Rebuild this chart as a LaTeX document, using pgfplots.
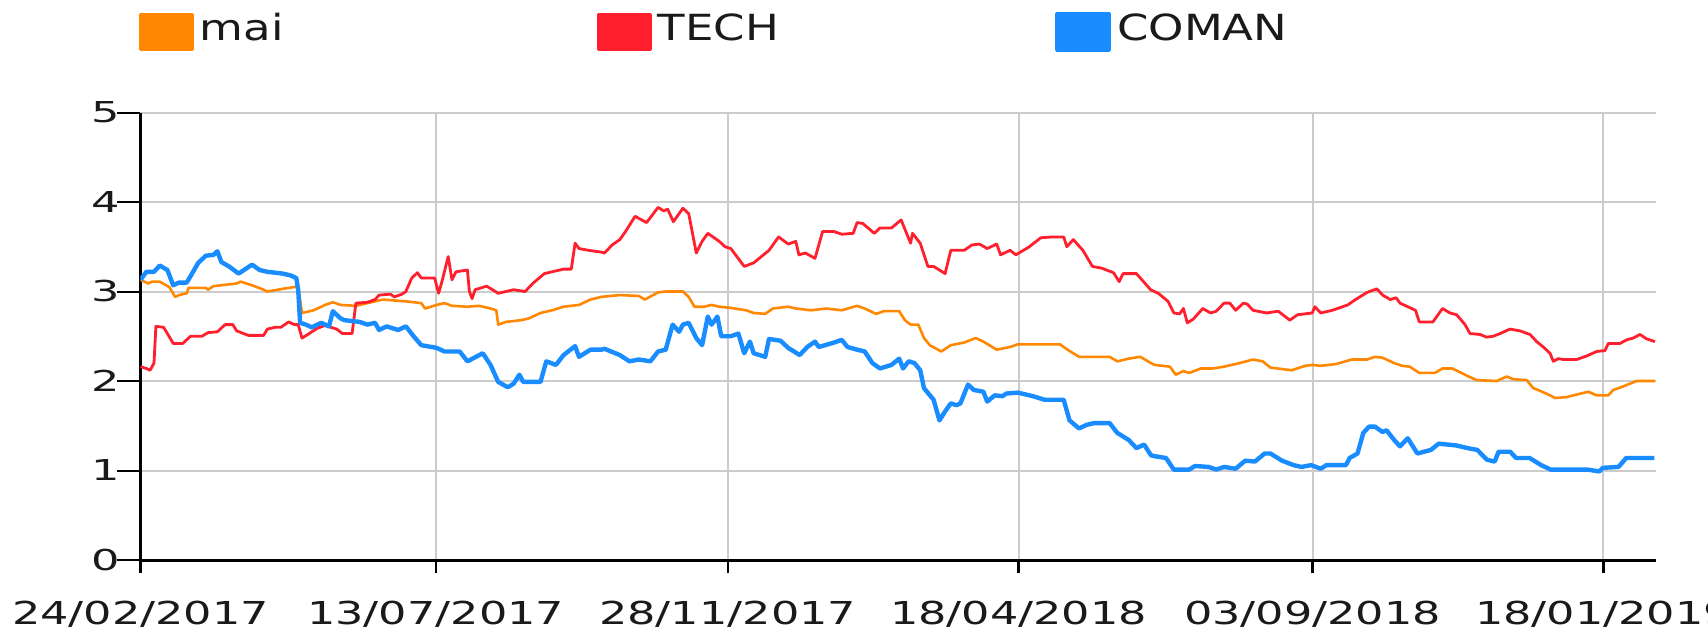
\documentclass[border=0pt]{standalone}
\usepackage{fontspec}
\usepackage{pgfplots}
\pgfplotsset{compat=1.18}
\newfontfamily\xlab[FakeStretch=1.41]{DejaVu Sans}
\newfontfamily\ylab[FakeStretch=1.55]{DejaVu Sans}
\newfontfamily\leg[FakeStretch=1.25]{DejaVu Sans}
\definecolor{cmai}{HTML}{FF8800}
\definecolor{ctech}{HTML}{FF1F2D}
\definecolor{ccoman}{HTML}{198CFF}
\definecolor{txt}{HTML}{1A1A1A}

% x values are positions in pixels of the 1708 px wide original (day ticks below)
\pgfplotstableread{
x y
140.5 3.13
148.2 3.09
152.0 3.11
159.7 3.11
169.3 3.05
175.1 2.94
179.0 2.96
186.7 2.98
188.6 3.04
205.9 3.04
207.8 3.02
213.6 3.06
236.7 3.09
240.5 3.11
252.0 3.07
263.6 3.02
267.4 3.00
282.8 3.03
294.4 3.05
298.2 3.05
302.0 2.76
313.6 2.79
325.1 2.85
332.8 2.88
340.5 2.85
355.9 2.84
367.4 2.87
382.8 2.91
394.3 2.90
405.9 2.89
421.3 2.87
425.1 2.81
436.7 2.85
444.4 2.87
452.0 2.84
467.4 2.83
479.0 2.84
490.5 2.81
496.3 2.79
498.2 2.63
505.9 2.66
521.3 2.68
529.0 2.70
540.5 2.76
552.0 2.79
563.6 2.83
579.0 2.85
590.5 2.91
601.3 2.94
619.8 2.96
638.9 2.95
644.7 2.91
658.1 2.99
665.7 3.00
682.9 3.00
688.7 2.94
694.4 2.83
704.0 2.83
711.6 2.85
719.3 2.83
728.9 2.82
746.1 2.79
753.7 2.76
765.2 2.75
772.9 2.81
788.2 2.83
795.8 2.81
811.1 2.79
826.4 2.81
841.7 2.79
857.1 2.84
864.7 2.81
876.2 2.75
883.8 2.78
899.2 2.78
904.9 2.68
910.6 2.63
918.3 2.63
924.0 2.48
929.8 2.40
941.3 2.33
950.8 2.40
964.2 2.43
975.7 2.48
983.4 2.44
996.7 2.35
1010.1 2.38
1017.8 2.41
1059.9 2.41
1067.5 2.35
1079.0 2.27
1109.6 2.27
1117.3 2.22
1128.8 2.25
1140.3 2.27
1151.0 2.20
1154.4 2.18
1169.9 2.16
1175.7 2.07
1183.4 2.11
1189.2 2.09
1200.8 2.14
1212.4 2.14
1224.0 2.16
1239.5 2.20
1253.0 2.24
1262.7 2.22
1270.4 2.15
1291.7 2.12
1305.3 2.17
1313.0 2.18
1320.7 2.17
1336.2 2.19
1351.7 2.24
1367.1 2.24
1374.9 2.27
1382.6 2.26
1394.2 2.20
1401.9 2.17
1409.7 2.16
1419.3 2.09
1434.8 2.09
1442.5 2.14
1452.0 2.14
1456.0 2.12
1466.7 2.06
1476.7 2.01
1496.7 2.00
1506.7 2.05
1513.3 2.02
1526.7 2.01
1533.3 1.92
1540.0 1.89
1550.0 1.84
1555.0 1.81
1566.7 1.82
1573.3 1.84
1588.3 1.88
1596.7 1.84
1608.3 1.84
1613.3 1.90
1623.3 1.94
1636.7 2.00
1655.0 2.00
}\maitab

\pgfplotstableread{
x y
140.5 2.16
146.3 2.14
150.1 2.12
154.0 2.20
155.9 2.61
163.6 2.60
167.4 2.53
173.2 2.42
182.8 2.42
190.5 2.50
202.0 2.50
207.8 2.54
217.4 2.55
225.1 2.63
232.8 2.63
236.7 2.56
248.2 2.51
263.6 2.51
267.4 2.58
275.1 2.60
280.9 2.60
288.6 2.66
294.4 2.63
298.2 2.63
302.0 2.48
307.8 2.52
317.4 2.59
325.1 2.62
336.7 2.58
342.4 2.53
352.1 2.53
355.9 2.87
367.4 2.88
375.1 2.91
379.0 2.96
390.5 2.97
394.3 2.94
402.0 2.97
405.9 3.00
411.7 3.15
417.4 3.21
421.3 3.15
434.7 3.15
438.6 2.98
442.4 3.13
448.2 3.39
452.0 3.13
455.9 3.22
467.4 3.24
469.4 3.00
472.1 2.92
475.1 3.02
486.7 3.06
498.2 2.98
513.6 3.02
525.1 3.00
532.8 3.09
544.4 3.20
552.0 3.22
563.6 3.25
571.3 3.25
575.1 3.54
579.0 3.48
588.6 3.46
601.3 3.44
604.5 3.43
612.1 3.52
619.8 3.58
625.5 3.67
635.1 3.84
646.6 3.77
658.1 3.94
663.8 3.90
667.6 3.92
673.4 3.78
682.9 3.93
688.7 3.87
696.3 3.43
702.1 3.56
707.8 3.65
719.3 3.56
725.0 3.50
730.8 3.48
744.2 3.28
753.7 3.32
769.0 3.46
778.6 3.61
788.2 3.53
795.8 3.56
798.9 3.41
805.4 3.43
815.0 3.37
822.6 3.67
834.1 3.67
841.7 3.64
853.2 3.65
857.1 3.77
862.8 3.76
874.3 3.65
880.0 3.71
891.5 3.71
901.1 3.80
910.6 3.54
912.5 3.65
920.2 3.54
927.9 3.28
933.6 3.28
945.1 3.20
950.8 3.46
964.2 3.46
971.9 3.52
979.5 3.53
987.2 3.48
996.7 3.53
1000.6 3.41
1010.1 3.46
1015.9 3.41
1029.3 3.50
1040.7 3.60
1052.2 3.61
1063.7 3.61
1066.8 3.50
1073.3 3.58
1082.9 3.46
1092.4 3.28
1102.0 3.26
1113.5 3.21
1119.2 3.11
1123.0 3.20
1136.4 3.20
1150.6 3.02
1158.3 2.98
1168.0 2.89
1173.8 2.76
1179.6 2.75
1183.4 2.81
1187.3 2.65
1193.1 2.69
1202.8 2.81
1210.5 2.76
1216.3 2.78
1224.0 2.87
1229.8 2.87
1235.6 2.79
1243.4 2.87
1247.2 2.86
1253.0 2.79
1266.6 2.76
1278.2 2.78
1289.8 2.68
1297.5 2.74
1312.2 2.76
1314.9 2.83
1320.7 2.76
1332.3 2.79
1347.8 2.85
1355.5 2.91
1367.1 2.99
1376.8 3.03
1382.6 2.96
1390.3 2.91
1396.1 2.93
1400.0 2.87
1415.5 2.79
1419.3 2.66
1432.9 2.66
1442.5 2.81
1450.0 2.76
1456.7 2.74
1465.0 2.63
1470.0 2.53
1480.0 2.52
1486.7 2.49
1493.3 2.50
1500.0 2.53
1510.0 2.58
1520.0 2.56
1530.0 2.52
1536.7 2.44
1543.3 2.38
1550.0 2.31
1553.3 2.22
1558.3 2.25
1563.3 2.24
1576.7 2.24
1586.7 2.28
1596.7 2.33
1605.0 2.34
1608.3 2.42
1620.0 2.42
1626.7 2.46
1633.3 2.48
1640.0 2.52
1646.7 2.47
1655.0 2.44
}\techtab

\pgfplotstableread{
x y
140.5 3.13
146.3 3.22
154.0 3.22
159.7 3.29
167.4 3.24
173.2 3.07
179.0 3.10
186.7 3.10
190.5 3.17
198.2 3.32
205.9 3.40
213.6 3.41
217.4 3.45
221.3 3.33
229.0 3.28
238.6 3.20
252.0 3.30
259.7 3.24
267.4 3.22
282.8 3.20
290.5 3.18
296.3 3.15
298.2 3.02
300.1 2.65
305.9 2.63
311.7 2.60
321.3 2.65
329.0 2.61
332.8 2.78
340.5 2.70
344.4 2.68
359.7 2.66
367.4 2.63
375.1 2.65
379.0 2.57
386.7 2.61
398.2 2.57
405.9 2.61
413.6 2.50
421.3 2.40
436.7 2.37
444.4 2.33
459.7 2.33
467.4 2.22
482.8 2.31
490.5 2.18
498.2 1.99
507.8 1.93
513.6 1.97
519.4 2.07
523.2 1.99
540.5 1.99
546.3 2.22
555.9 2.18
563.6 2.29
575.1 2.39
579.0 2.27
590.5 2.35
601.3 2.35
604.5 2.36
619.8 2.29
629.4 2.22
638.9 2.24
650.4 2.22
658.1 2.33
665.7 2.35
672.6 2.63
679.1 2.55
682.9 2.63
688.7 2.65
696.3 2.48
702.1 2.40
707.8 2.72
711.6 2.63
717.4 2.72
721.2 2.50
730.8 2.50
738.4 2.53
744.2 2.31
749.9 2.44
753.7 2.31
765.2 2.27
769.0 2.47
780.5 2.45
788.2 2.37
799.7 2.29
807.3 2.38
815.0 2.44
818.8 2.38
834.1 2.43
841.7 2.46
847.5 2.38
857.1 2.35
864.7 2.33
872.4 2.20
880.0 2.14
891.5 2.18
899.2 2.25
903.0 2.14
908.7 2.22
914.5 2.20
920.2 2.12
924.0 1.92
933.6 1.79
939.4 1.56
945.1 1.66
950.8 1.75
956.6 1.73
960.4 1.75
968.0 1.96
973.8 1.90
983.4 1.88
987.2 1.77
994.8 1.84
1002.5 1.83
1006.3 1.86
1017.8 1.87
1033.1 1.83
1044.6 1.79
1063.7 1.79
1069.5 1.56
1079.0 1.47
1086.7 1.51
1094.3 1.53
1109.6 1.53
1117.3 1.42
1128.8 1.34
1136.4 1.25
1144.1 1.29
1151.0 1.17
1154.4 1.16
1166.0 1.14
1173.8 1.01
1189.2 1.01
1195.0 1.05
1208.6 1.04
1216.3 1.01
1224.0 1.04
1235.6 1.02
1245.3 1.11
1255.0 1.10
1264.6 1.19
1270.4 1.19
1282.0 1.11
1293.6 1.06
1301.4 1.04
1311.1 1.06
1320.7 1.02
1326.5 1.06
1345.9 1.06
1349.7 1.14
1357.5 1.19
1363.3 1.42
1369.1 1.49
1374.9 1.49
1382.6 1.43
1386.5 1.45
1394.2 1.34
1400.0 1.27
1407.7 1.36
1417.4 1.19
1430.9 1.23
1438.7 1.30
1456.1 1.28
1467.7 1.25
1477.3 1.23
1487.0 1.12
1494.7 1.10
1498.6 1.21
1510.2 1.21
1516.0 1.14
1529.5 1.14
1541.1 1.06
1550.8 1.01
1568.2 1.01
1587.6 1.01
1599.2 0.99
1603.0 1.03
1618.5 1.04
1626.2 1.14
1654.4 1.14
}\comantab

\begin{document}
\begin{tikzpicture}
\begin{axis}[
  at={(0,0)}, anchor=south west,
  scale only axis, width=757.65pt, height=223.75pt,
  xmin=140.5, xmax=1655.8, ymin=0, ymax=5,
  axis x line*=bottom, axis y line*=left,
  axis line style={black, line width=1.5pt},
  xtick={140.5,435.7,727.7,1018.5,1312.6,1603.4},
  xticklabels={24/02/2017,13/07/2017,28/11/2017,18/04/2018,03/09/2018,18/01/2019},
  ytick={0,1,2,3,4,5}, yticklabels={0,1,2,3,4,5},
  tick align=outside,
  xtick style={black, line width=1.2pt, /pgfplots/major tick length=6.5pt},
  ytick style={black, line width=1pt, /pgfplots/major tick length=11.5pt},
  xticklabel style={font=\xlab\fontsize{15.8pt}{15.8pt}\selectfont, text=txt, anchor=north, inner sep=0pt, yshift=-16pt},
  yticklabel style={font=\ylab\fontsize{14.4pt}{14.4pt}\selectfont, text=txt, anchor=east, inner sep=0pt, xshift=-6pt},
  xmajorgrids, ymajorgrids,
  major grid style={gray!40, line width=1pt},
  legend columns=3,
  legend style={at={(0,1)}, anchor=north west, xshift=-0.75pt, yshift=50.4pt,
    draw=none, fill=none, inner sep=0pt, column sep=0pt,
    nodes={inner sep=0pt, text height=8.8pt, text depth=0pt, text=txt,
      font=\leg\fontsize{18pt}{18pt}\selectfont},
    /tikz/every odd column/.append style={column sep=3pt}},
  every axis plot/.append style={line join=round},
]
\addplot[cmai, line width=1.3pt,
  legend image code/.code={\fill[cmai] (0pt,-8.75pt) rectangle (26pt,8.75pt);}]
  table[x=x,y=y]{\maitab};
\addlegendentry{\makebox[198.5pt][l]{mai}}
\addplot[ctech, line width=1.4pt,
  legend image code/.code={\fill[ctech] (0pt,-8.75pt) rectangle (26pt,8.75pt);}]
  table[x=x,y=y]{\techtab};
\addlegendentry{\makebox[198.5pt][l]{TECH}}
\addplot[ccoman, line width=2.2pt,
  legend image code/.code={\fill[ccoman] (0pt,-8.75pt) rectangle (26pt,8.75pt);}]
  table[x=x,y=y]{\comantab};
\addlegendentry{\makebox[198.5pt][l]{COMAN}}
\end{axis}
\pgfresetboundingbox
\useasboundingbox (-70.25pt,-38.5pt) rectangle (783.75pt,280pt);
\end{tikzpicture}
\end{document}
